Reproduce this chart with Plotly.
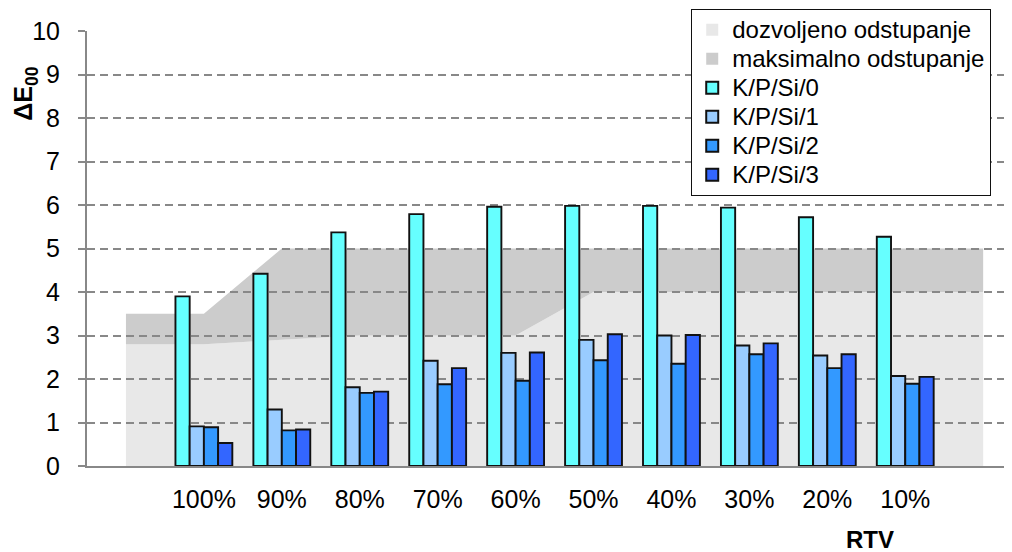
import plotly.graph_objects as go

categories = ["100%", "90%", "80%", "70%", "60%", "50%", "40%", "30%", "20%", "10%"]
kps0 = [3.90, 4.42, 5.37, 5.79, 5.96, 5.98, 5.98, 5.94, 5.72, 5.27]
kps1 = [0.91, 1.30, 1.81, 2.42, 2.60, 2.90, 3.00, 2.77, 2.54, 2.07]
kps2 = [0.89, 0.82, 1.68, 1.88, 1.96, 2.43, 2.35, 2.57, 2.25, 1.89]
kps3 = [0.53, 0.84, 1.71, 2.25, 2.61, 3.03, 3.01, 2.82, 2.57, 2.05]
# tolerance bands (drawn from an empty slot before 100% to one after 10%)
allowed = [2.8, 2.8, 2.9, 3.0, 3.0, 3.0, 4.0, 4.0, 4.0, 4.0, 4.0, 4.0]
maximum = [3.5, 3.5, 5.0, 5.0, 5.0, 5.0, 5.0, 5.0, 5.0, 5.0, 5.0, 5.0]

series = [
    ("K/P/Si/0", kps0, "#66FFFF"),
    ("K/P/Si/1", kps1, "#99CCFF"),
    ("K/P/Si/2", kps2, "#3399FF"),
    ("K/P/Si/3", kps3, "#3366FF"),
]
FONT = "Liberation Sans, Arial, sans-serif"

def big(name):
    return "<span style='font-size:24px'>%s</span>" % name

xpos = list(range(1, len(categories) + 1))
bpos = list(range(len(allowed)))

fig = go.Figure()

# band shapes beneath the gridlines
light_path = "M %s,0 " % bpos[0] + " ".join("L %s,%s" % (x, y) for x, y in zip(bpos, allowed)) + " L %s,0 Z" % bpos[-1]
dark_path = ("M " + " L ".join("%s,%s" % (x, y) for x, y in zip(bpos, maximum)) + " " +
             " ".join("L %s,%s" % (x, y) for x, y in zip(bpos[::-1], allowed[::-1])) + " Z")
fig.add_shape(type="path", path=light_path, xref="x", yref="y", fillcolor="#E8E8E8",
              line=dict(width=0), layer="below")
fig.add_shape(type="path", path=dark_path, xref="x", yref="y", fillcolor="#CCCCCC",
              line=dict(width=0), layer="below")

# legend entries for the bands
for name, col in [("dozvoljeno odstupanje", "#E8E8E8"), ("maksimalno odstupanje", "#CCCCCC")]:
    fig.add_trace(go.Scatter(x=[None], y=[None], mode="markers", name=big(name),
                             marker=dict(symbol="square", size=13, color=col, line=dict(width=0))))

for name, vals, col in series:
    fig.add_trace(go.Bar(x=xpos, y=vals, name=big(name),
                         marker=dict(color=col, line=dict(color="#111111", width=1.9))))

# the page body adds an 8px offset; the figure is sized to fill the rest of the window
fig.update_layout(
    width=1004, height=544,
    margin=dict(l=79, r=0, t=23, b=86, autoexpand=False),
    paper_bgcolor="white", plot_bgcolor="white",
    barmode="group", bargap=0.27, bargroupgap=0,
    font=dict(family=FONT, size=24, color="black"),
    showlegend=True,
    legend=dict(x=0.653, y=1.0506, xanchor="left", yanchor="top",
                bgcolor="white", bordercolor="#111111", borderwidth=1.2,
                font=dict(size=20), itemsizing="constant"),
    xaxis=dict(range=[-0.5, 11.37], tickvals=xpos, ticktext=categories, automargin=False,
               showgrid=False, zeroline=False, showline=True, linecolor="#888888", linewidth=2,
               ticks="", ticklabelstandoff=10, tickfont=dict(size=25)),
    yaxis=dict(range=[0, 10], dtick=1, showgrid=True, gridcolor="#888888", gridwidth=2,
               griddash="8px,5px", zeroline=False, showline=True, linecolor="#888888",
               linewidth=2, ticks="outside", ticklen=7, tickcolor="#888888", tickwidth=2,
               ticklabelstandoff=13, tickfont=dict(size=25), automargin=False),
)

fig.add_annotation(text="<b>ΔE<sub>00</sub></b>", textangle=-90, xref="paper", yref="paper",
                   x=-0.067, y=0.856, showarrow=False, font=dict(size=25),
                   xanchor="center", yanchor="middle")
fig.add_annotation(text="<b>RTV</b>", xref="paper", yref="paper", x=0.8465, y=-0.168,
                   showarrow=False, font=dict(size=24), xanchor="center", yanchor="middle")

fig.write_html("out.html")
